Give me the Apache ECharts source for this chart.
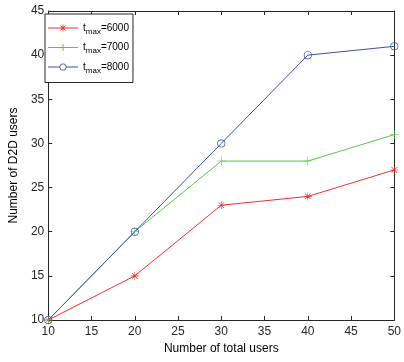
<!DOCTYPE html>
<html><head><meta charset="utf-8">
<script src="https://cdn.jsdelivr.net/npm/echarts@6/dist/echarts.min.js"></script>
<style>html,body{margin:0;padding:0;background:#fff}#c{width:404px;height:362px}</style>
</head><body><div id="c"></div>
<script>
const xValues = [10, 20, 30, 40, 50];
const seriesNames = ['6000', '7000', '8000'];
const t6000 = [10, 15, 23, 24, 27];
const t7000 = [10, 20, 28, 28, 31];
const t8000 = [10, 20, 30, 40, 41];
const colors = ['#ee3030', '#55c848', '#3850b0'];

const plusPath = 'path://M-0.6,-10L0.6,-10L0.6,-0.6L10,-0.6L10,0.6L0.6,0.6L0.6,10L-0.6,10L-0.6,0.6L-10,0.6L-10,-0.6L-0.6,-0.6Z';
const starPath = 'path://M-0.7,-10L0.7,-10L0.7,-0.7L10,-0.7L10,0.7L0.7,0.7L0.7,10L-0.7,10L-0.7,0.7L-10,0.7L-10,-0.7L-0.7,-0.7Z' +
  'M-7.6,-6.6L-6.6,-7.6L7.6,6.6L6.6,7.6Z M6.6,-7.6L7.6,-6.6L-6.6,7.6L-7.6,6.6Z';
const ringPath = 'path://M10,0A10,10 0 1,1 -10,0A10,10 0 1,1 10,0Z M8.2,0A8.2,8.2 0 1,0 -8.2,0A8.2,8.2 0 1,0 8.2,0Z';

// legend icons: line + marker, in a 30 x 7 box
const legStar = 'path://M0,3L30,3L30,4L0,4Z M14.6,0L15.4,0L15.4,7L14.6,7Z M12.2,1.3L12.8,0.7L17.8,5.7L17.2,6.3Z M17.2,0.7L17.8,1.3L12.8,6.3L12.2,5.7Z';
const legPlus = 'path://M0,3L30,3L30,4L0,4Z M14.5,0L15.5,0L15.5,7L14.5,7Z';
const legCircle = 'path://M0,3L11.6,3L11.6,4L0,4Z M18.4,3L30,3L30,4L18.4,4Z M18.5,3.5A3.5,3.5 0 1,1 11.5,3.5A3.5,3.5 0 1,1 18.5,3.5Z M17.7,3.5A2.7,2.7 0 1,0 12.3,3.5A2.7,2.7 0 1,0 17.7,3.5Z';
const legIcons = [legStar, legPlus, legCircle];

const pair = arr => xValues.map((x, i) => [x, arr[i]]);
const font = 'Liberation Sans, Arial, sans-serif';
const axisCol = '#262626';

const mk = (name, data, color, symbol, size) => ({
  name, type: 'line', data: pair(data), xAxisIndex: 0, yAxisIndex: 0,
  lineStyle: { color, width: 1 }, itemStyle: { color, borderWidth: 0 },
  symbol, symbolSize: size, showSymbol: true, animation: false, z: 3
});

const chart = echarts.init(document.getElementById('c'), null, { renderer: 'canvas' });
chart.setOption({
  animation: false,
  textStyle: { fontFamily: font },
  grid: { left: 42, right: 4, top: 11, bottom: 42 },
  legend: {
    orient: 'vertical', left: 45, top: 14, itemWidth: 30, itemHeight: 7, itemGap: 7,
    backgroundColor: '#fff', borderColor: axisCol, borderWidth: 1, borderRadius: 0,
    padding: [9, 4, 8, 3],
    data: seriesNames.map((n, i) => ({ name: 't' + n, icon: legIcons[i], itemStyle: { color: colors[i], borderWidth: 0 } })),
    formatter: name => '{t|t}{s|max}{t|=' + name.slice(1) + '}',
    textStyle: {
      color: '#000', fontFamily: font,
      rich: { t: { fontSize: 10, color: '#000' }, s: { fontSize: 8, color: '#000', padding: [7, 0, 0, 0] } }
    }
  },
  xAxis: [{
    type: 'value', min: 10, max: 50, interval: 5,
    name: 'Number of total users', nameLocation: 'middle', nameGap: 22,
    nameTextStyle: { fontSize: 12, color: '#000', fontFamily: font },
    axisLine: { show: true, onZero: false, lineStyle: { color: axisCol, width: 1 } },
    axisTick: { inside: true, length: 4, lineStyle: { color: axisCol } },
    axisLabel: { fontSize: 12, color: '#262626', margin: 6, fontFamily: font },
    splitLine: { show: false }
  }, {
    type: 'value', position: 'top', min: 10, max: 50, interval: 5,
    axisLine: { show: true, onZero: false, lineStyle: { color: axisCol, width: 1 } },
    axisTick: { inside: true, length: 4, lineStyle: { color: axisCol } },
    axisLabel: { show: false }, splitLine: { show: false }
  }],
  yAxis: [{
    type: 'value', min: 10, max: 45, interval: 5,
    name: 'Number of D2D users', nameLocation: 'middle', nameGap: 23,
    nameTextStyle: { fontSize: 12, color: '#000', fontFamily: font },
    axisLine: { show: true, onZero: false, lineStyle: { color: axisCol, width: 1 } },
    axisTick: { inside: true, length: 4, lineStyle: { color: axisCol } },
    axisLabel: { fontSize: 12, color: '#262626', margin: 4, fontFamily: font },
    splitLine: { show: false }
  }, {
    type: 'value', position: 'right', min: 10, max: 45, interval: 5,
    axisLine: { show: true, onZero: false, lineStyle: { color: axisCol, width: 1 } },
    axisTick: { inside: true, length: 4, lineStyle: { color: axisCol } },
    axisLabel: { show: false }, splitLine: { show: false }
  }],
  series: [
    mk('t6000', t6000, colors[0], starPath, 8),
    mk('t7000', t7000, colors[1], plusPath, 9),
    mk('t8000', t8000, colors[2], ringPath, 8)
  ]
});
</script></body></html>
